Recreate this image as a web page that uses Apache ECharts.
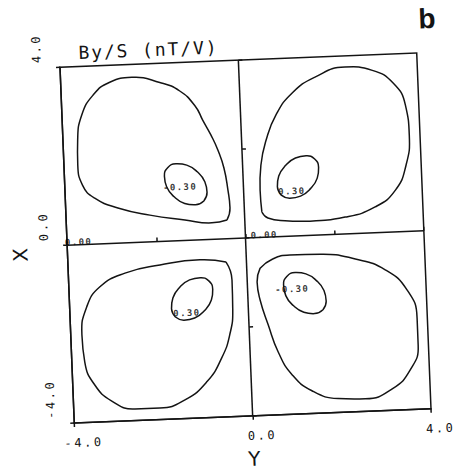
<!DOCTYPE html>
<html>
<head>
<meta charset="utf-8">
<script src="https://cdn.jsdelivr.net/npm/echarts@6/dist/echarts.min.js"></script>
<style>
  html, body { margin: 0; padding: 0; background: #fff; }
  #chart { width: 462px; height: 476px; transform: rotate(-2.3deg); transform-origin: 245.5px 238px; }
  /* wide plotter-style lettering */
  #chart text[style*="18px"] { letter-spacing: 1.9px; }
  #chart text[style*="12px"] { letter-spacing: 2.6px; }
  #chart text[style*="9px"]  { letter-spacing: 1.4px; }
</style>
</head>
<body>
<div id="chart"></div>
<script>
// Axis ticks and their printed labels (Y horizontal, X vertical)
const yTickValues = [-4, 0, 4];
const yTickLabels = ['-4.0', '0.0', '4.0'];
const xTickValues = [-4, 0, 4];
const xTickLabels = ['-4.0', '0.0', '4.0'];

// Contour traces as [Y, X] pairs
const outerUL = [[-0.40,0.42],[-0.32,0.69],[-0.35,1.09],[-0.42,1.59],[-0.54,2.00],[-0.68,2.34],[-0.85,2.68],[-1.01,3.01],[-1.34,3.36],[-1.78,3.57],[-2.40,3.71],[-2.90,3.62],[-3.29,3.34],[-3.56,2.90],[-3.67,2.35],[-3.69,1.79],[-3.60,1.33],[-3.34,1.03],[-2.83,0.79],[-2.12,0.60],[-1.34,0.46],[-0.74,0.37],[-0.40,0.42]];
const outerUR = [[0.39,0.57],[0.37,1.06],[0.41,1.62],[0.55,2.18],[0.79,2.73],[1.17,3.21],[1.70,3.55],[2.38,3.75],[2.99,3.65],[3.45,3.34],[3.70,2.84],[3.76,2.16],[3.66,1.49],[3.40,0.94],[2.93,0.58],[2.25,0.38],[1.46,0.32],[0.90,0.35],[0.52,0.43],[0.39,0.57]];
const outerLL = [[-0.46,-0.52],[-0.34,-0.93],[-0.35,-1.60],[-0.44,-2.16],[-0.64,-2.67],[-0.99,-3.19],[-1.50,-3.58],[-2.07,-3.74],[-2.63,-3.74],[-3.14,-3.54],[-3.51,-3.16],[-3.71,-2.64],[-3.75,-2.03],[-3.62,-1.41],[-3.31,-0.97],[-2.73,-0.68],[-1.94,-0.53],[-1.04,-0.45],[-0.46,-0.52]];
const outerLR = [[0.30,-0.69],[0.58,-0.50],[0.98,-0.42],[1.66,-0.43],[2.44,-0.57],[3.10,-0.84],[3.57,-1.31],[3.77,-1.95],[3.77,-2.56],[3.57,-3.11],[3.15,-3.52],[2.54,-3.72],[1.93,-3.69],[1.35,-3.49],[0.92,-3.11],[0.63,-2.59],[0.43,-1.97],[0.27,-1.40],[0.22,-1.00],[0.30,-0.69]];

const innerUL = [[-0.90,0.87],[-0.82,1.06],[-0.86,1.30],[-1.02,1.53],[-1.25,1.69],[-1.49,1.73],[-1.68,1.65],[-1.76,1.46],[-1.72,1.22],[-1.56,0.99],[-1.33,0.83],[-1.09,0.79],[-0.90,0.87]];
const innerUR = [[0.84,0.93],[0.76,1.12],[0.80,1.36],[0.96,1.59],[1.19,1.75],[1.43,1.79],[1.62,1.71],[1.70,1.52],[1.66,1.28],[1.50,1.05],[1.27,0.89],[1.03,0.85],[0.84,0.93]];
const innerLL = [[-1.64,-1.71],[-1.72,-1.52],[-1.68,-1.28],[-1.52,-1.05],[-1.29,-0.89],[-1.05,-0.85],[-0.86,-0.93],[-0.78,-1.12],[-0.82,-1.36],[-0.98,-1.59],[-1.21,-1.75],[-1.45,-1.79],[-1.64,-1.71]];
const innerLR = [[1.67,-1.68],[1.75,-1.49],[1.71,-1.25],[1.55,-1.02],[1.32,-0.86],[1.08,-0.82],[0.89,-0.90],[0.81,-1.09],[0.85,-1.33],[1.01,-1.56],[1.24,-1.72],[1.48,-1.76],[1.67,-1.68]];

// Zero contours along both axes
const zeroAlongY = [[-4, 0], [4, 0]];
const zeroAlongX = [[0, -4], [0, 4]];

// Contour level labels: position [Y, X] and level
const labelPositions = [[-1.42, 1.20], [1.08, 1.01], [-1.38, -1.63], [1.00, -1.19], [0.42, 0.05], [-3.74, 0.06]];
const labelLevels = [-0.30, 0.30, 0.30, -0.30, 0.00, 0.00];

const MONO = "'DejaVu Sans Mono', monospace";
const INK = '#141414';

const traces = [outerUL, outerUR, outerLL, outerLR, innerUL, innerUR, innerLL, innerLR];
const lineSeries = traces.map(pts => ({
  type: 'line', data: pts, smooth: 0.5, symbol: 'none', silent: true,
  xAxisIndex: 0, yAxisIndex: 0,
  lineStyle: { color: INK, width: 1.5 }
}));
[zeroAlongY, zeroAlongX].forEach(pts => lineSeries.push({
  type: 'line', data: pts, symbol: 'none', silent: true,
  xAxisIndex: 0, yAxisIndex: 0,
  lineStyle: { color: INK, width: 1.5 }
}));

const chart = echarts.init(document.getElementById('chart'), null, { renderer: 'svg', width: 462, height: 476 });
chart.setOption({
  animation: false,
  backgroundColor: '#fff',
  title: [
    { text: 'By/S (nT/V)', left: 86, top: 37, padding: 0,
      textStyle: { fontFamily: MONO, fontSize: 18, fontWeight: 'normal', color: INK } },
    { text: 'b', left: 427, top: 12, padding: 0,
      textStyle: { fontFamily: "'Liberation Sans', Arial, sans-serif", fontSize: 28, fontWeight: 'bold', color: INK } }
  ],
  grid: { left: 67, top: 60, width: 357, height: 356, show: true, borderColor: INK, borderWidth: 1.5, backgroundColor: 'transparent' },
  xAxis: [
    { type: 'value', min: -4, max: 4, interval: 4, position: 'bottom',
      name: 'Y', nameLocation: 'middle', nameGap: 33,
      nameTextStyle: { fontFamily: "'DejaVu Sans', sans-serif", fontSize: 20, color: INK },
      axisLine: { show: true, onZero: false, lineStyle: { color: INK, width: 1.5 } },
      axisTick: { show: true, inside: false, length: 4, lineStyle: { color: INK, width: 1.5 } },
      splitLine: { show: false },
      axisLabel: { margin: 14, fontFamily: MONO, fontSize: 12, color: INK, padding: [0, 0, 0, 18],
        formatter: v => { const i = xTickValues.indexOf(v); return i >= 0 ? xTickLabels[i] : ''; } } },
    { type: 'value', min: -4, max: 4, interval: 2, position: 'bottom',
      axisLine: { show: false }, axisLabel: { show: false }, splitLine: { show: false },
      axisTick: { show: true, inside: true, length: 4, lineStyle: { color: INK, width: 1.5 } } }
  ],
  yAxis: [
    { type: 'value', min: -4, max: 4, interval: 4, position: 'left',
      name: 'X', nameLocation: 'middle', nameGap: 36, nameRotate: 90,
      nameTextStyle: { fontFamily: "'DejaVu Sans', sans-serif", fontSize: 20, color: INK, padding: [0, 16, 0, 0] },
      axisLine: { show: true, onZero: false, lineStyle: { color: INK, width: 1.5 } },
      axisTick: { show: true, inside: false, length: 4, lineStyle: { color: INK, width: 1.5 } },
      splitLine: { show: false },
      axisLabel: { rotate: 90, align: 'left', verticalAlign: 'middle', margin: 23, padding: [0, 0, 0, 5],
        fontFamily: MONO, fontSize: 12, color: INK,
        formatter: v => { const i = yTickValues.indexOf(v); return i >= 0 ? yTickLabels[i] : ''; } } },
    { type: 'value', min: -4, max: 4, interval: 2, position: 'left',
      axisLine: { show: false }, axisLabel: { show: false }, splitLine: { show: false },
      axisTick: { show: true, inside: true, length: 4, lineStyle: { color: INK, width: 1.5 } } }
  ],
  series: lineSeries.concat([{
    type: 'scatter', xAxisIndex: 0, yAxisIndex: 0, symbolSize: 0, silent: true,
    data: labelPositions.map((p, i) => ({ value: p, level: labelLevels[i] })),
    label: { show: true, position: 'inside', fontFamily: MONO, fontSize: 9, fontWeight: 'bold', color: '#000',
      formatter: p => p.data.level.toFixed(2) }
  }])
});
</script>
</body>
</html>
